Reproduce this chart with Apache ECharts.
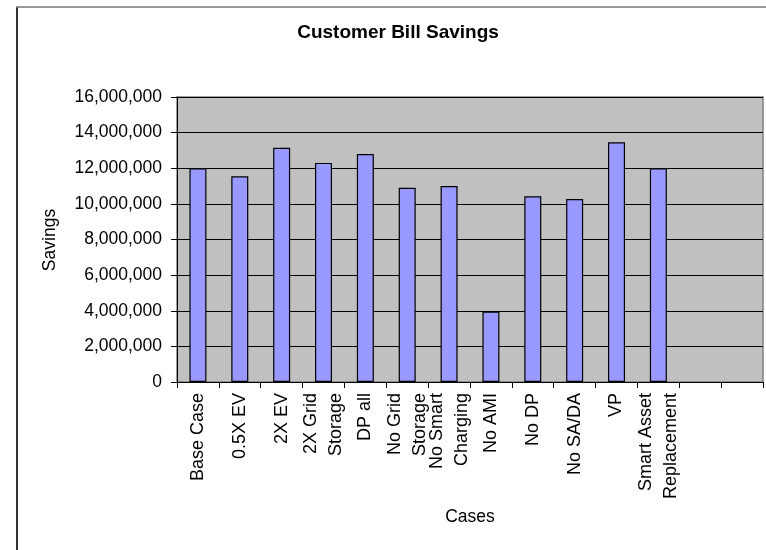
<!DOCTYPE html>
<html>
<head>
<meta charset="utf-8">
<script src="https://cdn.jsdelivr.net/npm/echarts@6/dist/echarts.min.js"></script>
<style>
  html, body { margin: 0; padding: 0; background: #fff; }
  #chart { width: 766px; height: 550px; }
</style>
</head>
<body>
<div id="chart"></div>
<script>
// Scenario names (two trailing empty slots keep the axis width of the original sheet)
const cases = [
  'Base Case', '0.5X EV', '2X EV', '2X Grid\nStorage', 'DP all',
  'No Grid\nStorage', 'No Smart\nCharging', 'No AMI', 'No DP', 'No SA/DA',
  'VP', 'Smart Asset\nReplacement', '', ''
];

// Customer bill savings per scenario
const savings = [
  12000000, 11550000, 13150000, 12300000, 12800000,
  10900000, 11000000, 3950000, 10430000, 10270000,
  13460000, 12000000, null, null
];

// Value axis ticks
const yTicks = [0, 2000000, 4000000, 6000000, 8000000, 10000000, 12000000, 14000000, 16000000];

const fontFamily = 'Liberation Sans, Arial, sans-serif';
const chart = echarts.init(document.getElementById('chart'));

chart.setOption({
  animation: false,
  backgroundColor: '#ffffff',
  textStyle: { fontFamily: fontFamily },
  grid: {
    left: 177, top: 97, right: 3, bottom: 168,
    show: true,
    backgroundColor: '#c0c0c0',
    borderColor: '#808080',
    borderWidth: 1.5
  },
  xAxis: {
    type: 'category',
    data: cases,
    boundaryGap: true,
    axisLine: { show: true, lineStyle: { color: '#000', width: 1 } },
    axisTick: { show: true, alignWithLabel: false, length: 6, lineStyle: { color: '#000' } },
    axisLabel: {
      interval: 0,
      rotate: 90,
      margin: 11,
      fontSize: 18,
      lineHeight: 25,
      color: '#000',
      fontFamily: fontFamily
    },
    splitLine: { show: false }
  },
  yAxis: {
    type: 'value',
    min: yTicks[0],
    max: yTicks[yTicks.length - 1],
    interval: yTicks[1] - yTicks[0],
    axisLine: { show: true, lineStyle: { color: '#000', width: 1 } },
    axisTick: { show: true, length: 6, lineStyle: { color: '#000' } },
    axisLabel: {
      margin: 15,
      fontSize: 17.5,
      color: '#000',
      fontFamily: fontFamily,
      formatter: v => v.toLocaleString('en-US')
    },
    splitLine: { show: true, lineStyle: { color: '#000', width: 1 } }
  },
  series: [{
    type: 'bar',
    data: savings,
    barWidth: 17,
    itemStyle: {
      color: '#9999ff',
      borderColor: '#000',
      borderWidth: 1.2
    }
  }],
  graphic: [
    // chart area frame
    { type: 'line', shape: { x1: 17, y1: 7, x2: 17, y2: 560 }, style: { stroke: '#333', lineWidth: 2 } },
    { type: 'line', shape: { x1: 16, y1: 7, x2: 780, y2: 7 }, style: { stroke: '#777', lineWidth: 1.5 } },
    {
      type: 'text', x: 398, y: 33,
      style: {
        text: 'Customer Bill Savings', fill: '#000',
        font: 'bold 19px ' + fontFamily,
        textAlign: 'center', textVerticalAlign: 'middle'
      }
    },
    {
      type: 'text', x: 50, y: 240, rotation: Math.PI / 2,
      style: {
        text: 'Savings', fill: '#000',
        font: '17.5px ' + fontFamily,
        textAlign: 'center', textVerticalAlign: 'middle'
      }
    },
    {
      type: 'text', x: 470, y: 517,
      style: {
        text: 'Cases', fill: '#000',
        font: '17.5px ' + fontFamily,
        textAlign: 'center', textVerticalAlign: 'middle'
      }
    }
  ]
});
</script>
</body>
</html>
